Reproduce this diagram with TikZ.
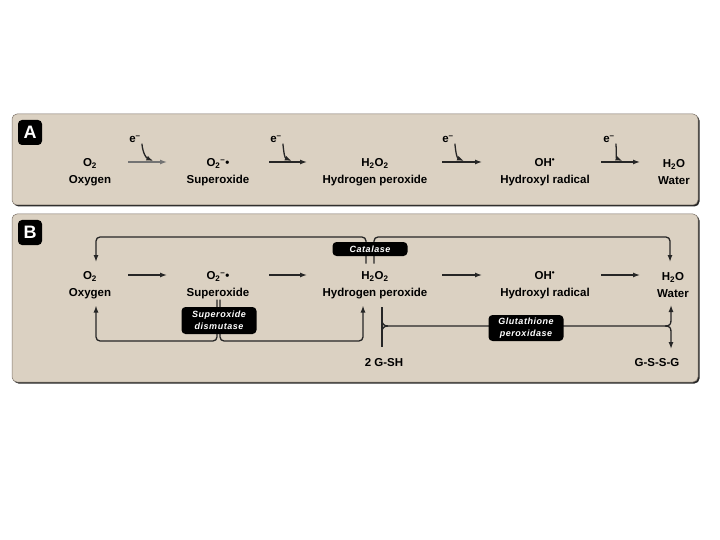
\documentclass[tikz,border=0pt]{standalone}
\usepackage{fontspec}
\setmainfont{Liberation Sans}
\newfontfamily\enzfont[LetterSpace=6]{Liberation Sans}
\usetikzlibrary{positioning, arrows.meta, calc}
\definecolor{paneltan}{RGB}{219,209,194}
\definecolor{panelrim}{RGB}{125,115,105}
\newcommand{\supox}{O\textsubscript{2}\textsuperscript{–}•}
\newcommand{\ohrad}{OH\textsuperscript{•}}

\begin{document}
\begin{tikzpicture}[
  x=1pt, y=-1pt,
  font=\fontsize{11.5}{17}\selectfont\bfseries, >={Latex[length=7pt,width=5pt]},
  panel/.style={fill=paneltan, draw=panelrim, line width=0.5pt, rounded corners=5pt},
  shade/.style={fill=black!85, rounded corners=5pt},
  tag/.style={fill=black, text=white, rounded corners=4pt, minimum width=24pt,
    minimum height=25pt, inner sep=0pt, font=\fontsize{18}{18}\selectfont\bfseries},
  species/.style={align=center, inner sep=0pt},
  elabel/.style={inner sep=1pt},
  enzyme/.style={fill=black, text=white, rounded corners=4pt, align=center, inner sep=0pt,
    minimum width=75pt, font=\enzfont\fontsize{9}{11.5}\selectfont\bfseries\itshape},
  flow/.style={->, line width=1.3pt, black!85},
  link/.style={line width=1.3pt, black!85},
]
\useasboundingbox (0,0) rectangle (720,540);
% ---- the two panels ----
\fill[shade] (13.5,115.5) rectangle (699.5,206.5);
\draw[panel] (12,114) rectangle (698,205);
\fill[shade] (13.5,215.5) rectangle (699.5,383.5);
\draw[panel] (12,214) rectangle (698,382);
\node[tag] (tagA) at (30,132.5) {A};
\node[tag] (tagB) at (30,232.5) {B};
% ---- panel A: one-electron steps ----
\node[species] (oxyA) at (90,172.5) {O\textsubscript{2}\\Oxygen};
\node[species] (supA) at (218,172.5) {\supox\\Superoxide};
\node[species] (hpA) at (375,172.5) {H\textsubscript{2}O\textsubscript{2}\\Hydrogen peroxide};
\node[species] (ohA) at (545,172.5) {\ohrad\\Hydroxyl radical};
\node[species] (watA) at (674,172.5) {H\textsubscript{2}O\\Water};
\node[elabel] (eA1) at (135,139) {e\textsuperscript{–}};
\node[elabel] (eA2) at (276,139) {e\textsuperscript{–}};
\node[elabel] (eA3) at (448,139) {e\textsuperscript{–}};
\node[elabel] (eA4) at (609,139) {e\textsuperscript{–}};
\draw[flow, black!55] ($(oxyA)+(38,-10.5)$) -- coordinate[pos=.65] (mA1) ($(supA)+(-51,-10.5)$);
\draw[flow] ($(supA)+(51,-10.5)$) -- coordinate[pos=.6] (mA2) ($(hpA)+(-68,-10.5)$);
\draw[flow] ($(hpA)+(67,-10.5)$) -- coordinate[pos=.55] (mA3) ($(ohA)+(-63,-10.5)$);
\draw[flow] ($(ohA)+(56,-10.5)$) -- coordinate[pos=.55] (mA4) ($(watA)+(-34,-10.5)$);
\draw[flow] (eA1.south east) .. controls +(1,10) and +(-7,-3) .. ([yshift=1pt]mA1);
\draw[flow] (eA2.south east) .. controls +(1,10) and +(-7,-3) .. ([yshift=1pt]mA2);
\draw[flow] (eA3.south east) .. controls +(1,10) and +(-7,-3) .. ([yshift=1pt]mA3);
\draw[flow] (eA4.south east) .. controls +(1,10) and +(-7,-3) .. ([yshift=1pt]mA4);
% ---- panel B: enzymes ----
\node[species] (oxyB) at (90,285.5) {O\textsubscript{2}\\Oxygen};
\node[species] (supB) at (218,285.5) {\supox\\Superoxide};
\node[species] (hpB) at (375,285.5) {H\textsubscript{2}O\textsubscript{2}\\Hydrogen peroxide};
\node[species] (ohB) at (545,285.5) {\ohrad\\Hydroxyl radical};
\node[species] (watB) at (673,285.5) {H\textsubscript{2}O\\Water};
\node (gsh) at (384,363) {2 G-SH};
\node (gssg) at (657,363) {G-S-S-G};
\draw[flow] ($(oxyB)+(38,-10.5)$) -- ($(supB)+(-51,-10.5)$);
\draw[flow] ($(supB)+(51,-10.5)$) -- ($(hpB)+(-68,-10.5)$);
\draw[flow] ($(hpB)+(67,-10.5)$) -- ($(ohB)+(-63,-10.5)$);
\draw[flow] ($(ohB)+(56,-10.5)$) -- ($(watB)+(-33,-10.5)$);
% catalase
\draw[flow, rounded corners=4pt] ($(hpB)+(-9,-22)$) |- ($(oxyB)+(6,-48.5)$) -- ($(oxyB)+(6,-23.5)$);
\draw[flow, rounded corners=4pt] ($(hpB)+(-1,-22)$) |- ($(watB)+(-3,-48.5)$) -- ($(watB)+(-3,-23.5)$);
% superoxide dismutase
\draw[flow, rounded corners=4pt] ($(supB)+(-1,14)$) |- ($(oxyB)+(6,55.5)$) -- ($(oxyB)+(6,20)$);
\draw[flow, rounded corners=4pt] ($(supB)+(2,14)$) |- ($(hpB)+(-12,55.5)$) -- ($(hpB)+(-12,20)$);
% glutathione peroxidase
\draw[link] ($(hpB)+(7,21.5)$) -- ($(gsh)+(-2,-16)$);
\draw[link] ($(hpB)+(7,46.5)$) .. controls +(0,-4) and +(-4,0) .. ($(hpB)+(13,40.5)$);
\draw[flow] ($(hpB)+(7,34.5)$) .. controls +(0,4) and +(-4,0) .. ($(hpB)+(13,40.5)$)
  -- ($(watB)+(-8,40.5)$) .. controls +(5,0) and +(0,4) .. ($(watB)+(-2,34.5)$)
  -- ($(watB)+(-2,19.5)$);
\draw[flow] ($(watB)+(-8,40.5)$) .. controls +(5,0) and +(0,-4) .. ($(watB)+(-2,46.5)$)
  -- ($(gssg)+(14,-14)$);
\node[enzyme, minimum height=14pt] (cat) at (370,249) {Catalase};
\node[enzyme, minimum height=27pt] (sod) at (219,320.5) {Superoxide\\dismutase};
\node[enzyme, minimum height=26pt] (gpx) at (526,328) {Glutathione\\peroxidase};
\end{tikzpicture}
\end{document}
